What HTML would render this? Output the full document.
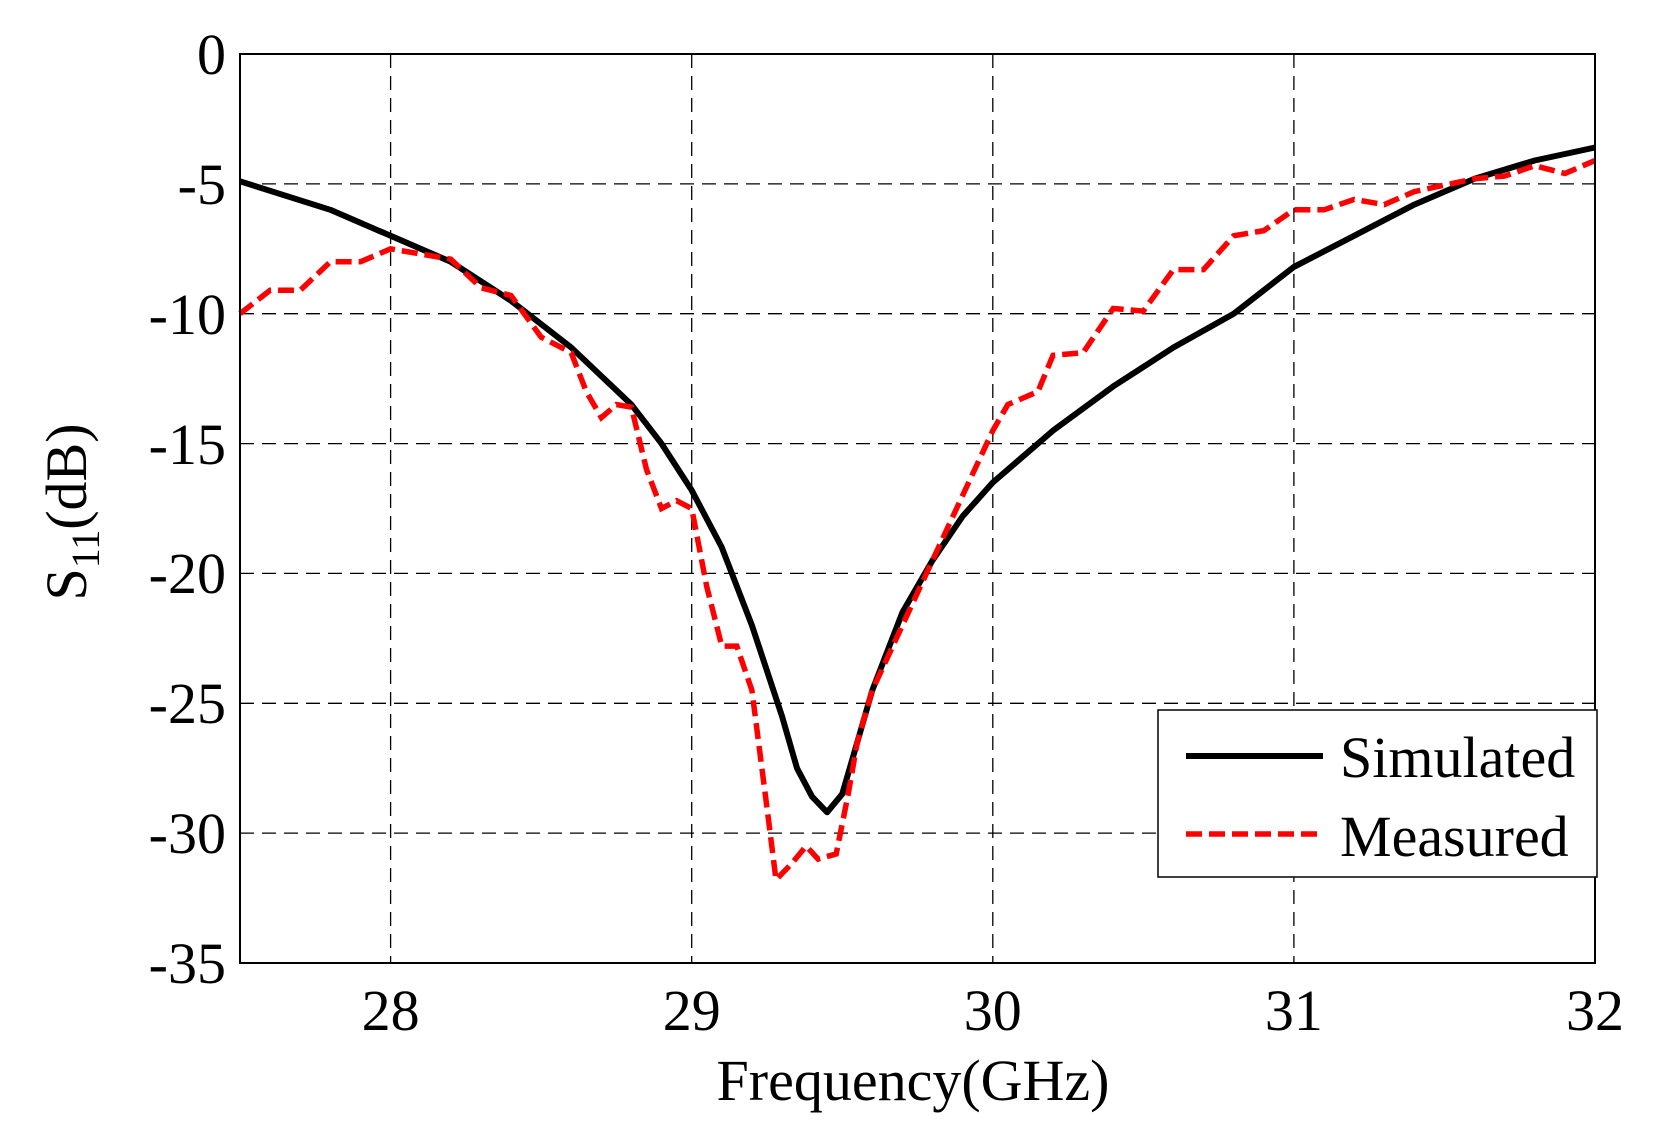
<!DOCTYPE html>
<html><head><meta charset="utf-8"><style>
html,body{margin:0;padding:0;background:#fff;}
text{font-family:"Liberation Serif",serif;fill:#000;}
</style></head><body>
<svg width="1653" height="1138" viewBox="0 0 1653 1138" xmlns="http://www.w3.org/2000/svg">
<rect width="1653" height="1138" fill="#fff"/>
<g stroke="#000" stroke-width="1.3" stroke-dasharray="14,8" fill="none">
<line x1="390.6" y1="54" x2="390.6" y2="963"/>
<line x1="691.7" y1="54" x2="691.7" y2="963"/>
<line x1="992.8" y1="54" x2="992.8" y2="963"/>
<line x1="1293.9" y1="54" x2="1293.9" y2="963"/>
<line x1="240" y1="183.9" x2="1595" y2="183.9"/>
<line x1="240" y1="313.7" x2="1595" y2="313.7"/>
<line x1="240" y1="443.6" x2="1595" y2="443.6"/>
<line x1="240" y1="573.4" x2="1595" y2="573.4"/>
<line x1="240" y1="703.3" x2="1595" y2="703.3"/>
<line x1="240" y1="833.1" x2="1595" y2="833.1"/>
</g>
<polyline fill="none" stroke="#000" stroke-width="6" stroke-linejoin="round" points="240,181.3 330.3,209.8 390.6,235.8 450.8,261.8 511,300.7 571.2,347.5 631.4,404.6 661.5,443.6 691.7,490.3 721.8,547.4 751.9,625.3 782,716.2 797,768.2 812.1,796.7 827.1,812.3 842.2,794.1 857.3,742.2 872.3,690.3 902.4,612.4 932.5,560.4 962.6,516.3 992.8,482.5 1053,430.6 1113.2,386.4 1173.4,347.5 1233.7,313.7 1293.9,266.9 1354.1,235.8 1414.3,204.6 1474.5,178.7 1534.7,160.5 1595,147.5"/>
<polyline fill="none" stroke="#f00" stroke-width="5.5" stroke-dasharray="16,7" points="240,313.7 270.1,290.3 300.2,290.3 330.3,261.8 360.4,261.8 390.6,248.8 420.7,254 450.8,259.2 480.9,287.7 511,295.5 541.1,337.1 571.2,352.7 586.3,391.6 601.4,417.6 616.4,404.6 631.4,407.2 646.5,469.5 661.5,508.5 676.6,500.7 691.7,508.5 706.7,586.4 721.8,646.1 736.8,646.1 751.9,690.3 766.9,807.1 776,879.8 791,864.3 806.1,846.1 818.1,859.1 836.2,853.9 848.2,794.1 857.3,742.2 872.3,690.3 902.4,625.3 932.5,560.4 962.6,495.5 992.8,430.6 1007.8,404.6 1037.9,391.6 1053,355.3 1083.1,352.7 1113.2,308.5 1143.3,311.1 1173.4,269.6 1203.5,269.6 1233.7,235.8 1263.8,230.6 1293.9,209.8 1324,209.8 1354.1,199.4 1384.2,204.6 1414.3,191.6 1474.5,178.7 1504.6,176.1 1534.7,165.7 1564.9,173.5 1595,160.5"/>
<rect x="240" y="54" width="1355" height="909" fill="none" stroke="#000" stroke-width="2"/>
<rect x="1158" y="710" width="439" height="167" fill="#fff" stroke="#000" stroke-width="1.5"/>
<line x1="1186" y1="756" x2="1323" y2="756" stroke="#000" stroke-width="6"/>
<line x1="1186" y1="834" x2="1323" y2="834" stroke="#f00" stroke-width="5.5" stroke-dasharray="16,7"/>
<text x="1340" y="777" font-size="58">Simulated</text>
<text x="1340" y="856" font-size="58">Measured</text>
<g font-size="58" text-anchor="end">
<text x="226" y="74">0</text>
<text x="226" y="204">-5</text>
<text x="226" y="334">-10</text>
<text x="226" y="464">-15</text>
<text x="226" y="593">-20</text>
<text x="226" y="723">-25</text>
<text x="226" y="853">-30</text>
<text x="226" y="983">-35</text>
</g>
<g font-size="58" text-anchor="middle">
<text x="390.6" y="1030">28</text>
<text x="691.7" y="1030">29</text>
<text x="992.8" y="1030">30</text>
<text x="1293.9" y="1030">31</text>
<text x="1595" y="1030">32</text>
<text x="913" y="1100">Frequency(GHz)</text>
</g>
<text transform="translate(86,512) rotate(-90)" font-size="58" text-anchor="middle">S<tspan font-size="40" dy="13">11</tspan><tspan dy="-13">(dB)</tspan></text>
</svg>
</body></html>
